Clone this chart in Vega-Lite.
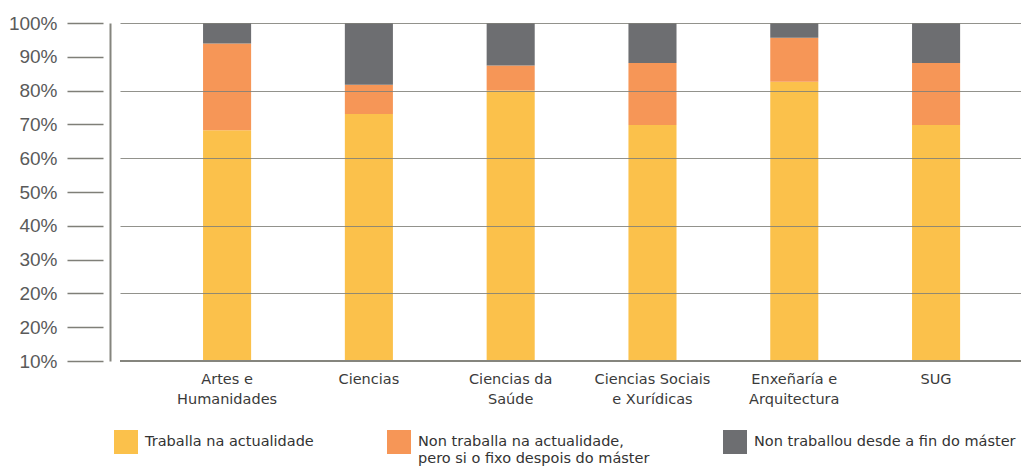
{
  "$schema": "https://vega.github.io/schema/vega-lite/v6.json",
  "width": 901,
  "height": 338,
  "autosize": {"type": "none"},
  "padding": {"left": 120, "top": 23, "right": 0, "bottom": 110},
  "background": "white",
  "config": {"view": {"stroke": null}, "font": "DejaVu Sans"},
  "layer": [
    {
      "data": {
        "values": [
          {"area": "Artes e Humanidades", "estado": "Traballa na actualidade", "pct": 68.3},
          {"area": "Artes e Humanidades", "estado": "Non traballa na actualidade, pero si o fixo despois do máster", "pct": 25.6},
          {"area": "Artes e Humanidades", "estado": "Non traballou desde a fin do máster", "pct": 6.1},
          {"area": "Ciencias", "estado": "Traballa na actualidade", "pct": 73.1},
          {"area": "Ciencias", "estado": "Non traballa na actualidade, pero si o fixo despois do máster", "pct": 8.6},
          {"area": "Ciencias", "estado": "Non traballou desde a fin do máster", "pct": 18.3},
          {"area": "Ciencias da Saúde", "estado": "Traballa na actualidade", "pct": 80.0},
          {"area": "Ciencias da Saúde", "estado": "Non traballa na actualidade, pero si o fixo despois do máster", "pct": 7.4},
          {"area": "Ciencias da Saúde", "estado": "Non traballou desde a fin do máster", "pct": 12.6},
          {"area": "Ciencias Sociais e Xurídicas", "estado": "Traballa na actualidade", "pct": 69.8},
          {"area": "Ciencias Sociais e Xurídicas", "estado": "Non traballa na actualidade, pero si o fixo despois do máster", "pct": 18.4},
          {"area": "Ciencias Sociais e Xurídicas", "estado": "Non traballou desde a fin do máster", "pct": 11.8},
          {"area": "Enxeñaría e Arquitectura", "estado": "Traballa na actualidade", "pct": 82.6},
          {"area": "Enxeñaría e Arquitectura", "estado": "Non traballa na actualidade, pero si o fixo despois do máster", "pct": 13.0},
          {"area": "Enxeñaría e Arquitectura", "estado": "Non traballou desde a fin do máster", "pct": 4.4},
          {"area": "SUG", "estado": "Traballa na actualidade", "pct": 69.8},
          {"area": "SUG", "estado": "Non traballa na actualidade, pero si o fixo despois do máster", "pct": 18.4},
          {"area": "SUG", "estado": "Non traballou desde a fin do máster", "pct": 11.8}
        ]
      },
      "transform": [
        {"calculate": "indexof(['Traballa na actualidade','Non traballa na actualidade, pero si o fixo despois do máster','Non traballou desde a fin do máster'], datum.estado)", "as": "orde"}
      ],
      "mark": {"type": "bar"},
      "encoding": {
        "x": {
          "field": "area",
          "type": "nominal",
          "sort": null,
          "scale": {"paddingInner": 0.661, "paddingOuter": 0.5075, "align": 0.577},
          "axis": {
            "title": null,
            "domain": false,
            "ticks": false,
            "labelAngle": 0,
            "labelFont": "DejaVu Sans",
            "labelFontSize": 14.5,
            "labelColor": "#3a3a3a",
            "labelPadding": 11,
            "labelLineHeight": 20,
            "labelLimit": 300,
            "labelExpr": "datum.label == 'Artes e Humanidades' ? ['Artes e', 'Humanidades'] : datum.label == 'Ciencias da Saúde' ? ['Ciencias da', 'Saúde'] : datum.label == 'Ciencias Sociais e Xurídicas' ? ['Ciencias Sociais', 'e Xurídicas'] : datum.label == 'Enxeñaría e Arquitectura' ? ['Enxeñaría e', 'Arquitectura'] : datum.label"
          }
        },
        "y": {
          "field": "pct",
          "type": "quantitative",
          "stack": "zero",
          "scale": {"domain": [0, 100], "nice": false},
          "axis": {
            "orient": "left",
            "title": null,
            "offset": 17,
            "domain": false,
            "values": [0, 10, 20, 30, 40, 50, 60, 70, 80, 90, 100],
            "tickSize": 36,
            "tickColor": "#7f7f78",
            "tickWidth": 1.5,
            "labelPadding": 10,
            "labelFont": "Liberation Sans",
            "labelFontSize": 19,
            "labelColor": "#5a5a5a",
            "labelExpr": "datum.value == 0 ? '10%' : datum.value == 10 ? '20%' : datum.value + '%'",
            "grid": true,
            "gridColor": "#7f7f78",
            "gridWidth": 1.2,
            "gridOpacity": {"condition": {"test": "datum.value % 20 === 0 && datum.value > 0", "value": 0.85}, "value": 0},
            "zindex": 1
          }
        },
        "color": {
          "field": "estado",
          "type": "nominal",
          "scale": {
            "domain": ["Traballa na actualidade", "Non traballa na actualidade, pero si o fixo despois do máster", "Non traballou desde a fin do máster"],
            "range": ["#FBC14B", "#F69657", "#6D6E71"]
          },
          "legend": {
            "orient": "none",
            "legendX": -6,
            "legendY": 407,
            "direction": "horizontal",
            "columns": 3,
            "title": null,
            "padding": 0,
            "symbolType": "square",
            "symbolSize": 576,
            "symbolStrokeWidth": 0,
            "symbolOpacity": 1,
            "labelFont": "DejaVu Sans",
            "labelFontSize": 14.5,
            "labelColor": "#333333",
            "labelOffset": 7,
            "labelLimit": 400,
            "labelLineHeight": 21,
            "columnPadding": 73,
            "labelExpr": "datum.label == 'Non traballa na actualidade, pero si o fixo despois do máster' ? ['Non traballa na actualidade,', 'pero si o fixo despois do máster'] : [datum.label, '']"
          }
        },
        "order": {"field": "orde", "type": "quantitative", "sort": "ascending"}
      }
    },
    {
      "data": {"values": [{}]},
      "mark": {"type": "rule", "color": "#85857e", "strokeWidth": 2},
      "encoding": {
        "y": {
          "datum": 0,
          "type": "quantitative",
          "axis": {
            "orient": "left",
            "title": null,
            "offset": 10,
            "domain": true,
            "domainColor": "#85857e",
            "domainWidth": 2,
            "ticks": false,
            "labels": false,
            "grid": false
          }
        }
      }
    }
  ],
  "resolve": {"axis": {"y": "independent"}}
}
